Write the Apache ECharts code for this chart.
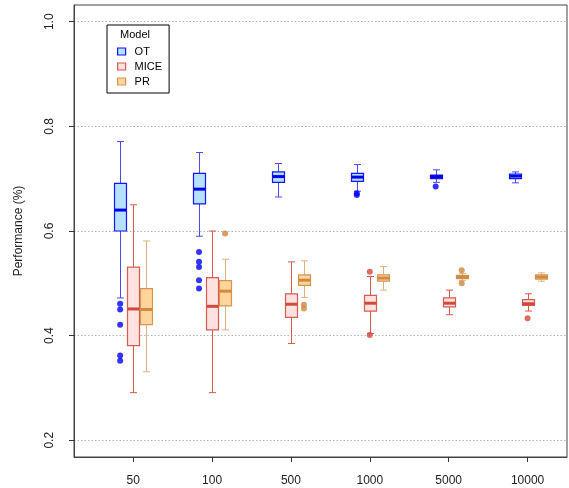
<!DOCTYPE html>
<html>
<head>
<meta charset="utf-8">
<script src="https://cdn.jsdelivr.net/npm/echarts@6/dist/echarts.min.js"></script>
<style>
  html, body { margin: 0; padding: 0; background: #fff; }
  #chart { width: 569px; height: 488px; }
</style>
</head>
<body>
<div id="chart"></div>
<script>
// sample sizes on the x axis
const sizes = ['50', '100', '500', '1000', '5000', '10000'];
const yTicks = [0.2, 0.4, 0.6, 0.8, 1.0];

// [min, q1, median, q3, max] per sample size
const otBoxes = [
  [0.472, 0.600, 0.640, 0.691, 0.771],
  [0.590, 0.652, 0.680, 0.710, 0.750],
  [0.665, 0.693, 0.704, 0.713, 0.729],
  [0.676, 0.695, 0.703, 0.710, 0.727],
  [0.693, 0.700, 0.704, 0.707, 0.717],
  [0.692, 0.700, 0.705, 0.709, 0.713]
];
const miceBoxes = [
  [0.291, 0.381, 0.451, 0.531, 0.650],
  [0.291, 0.411, 0.456, 0.511, 0.600],
  [0.385, 0.435, 0.460, 0.480, 0.541],
  [0.404, 0.447, 0.462, 0.477, 0.513],
  [0.440, 0.455, 0.462, 0.472, 0.487],
  [0.447, 0.458, 0.461, 0.469, 0.480]
];
const prBoxes = [
  [0.331, 0.421, 0.450, 0.490, 0.581],
  [0.411, 0.457, 0.485, 0.505, 0.546],
  [0.473, 0.496, 0.506, 0.516, 0.543],
  [0.487, 0.504, 0.510, 0.516, 0.532],
  [0.505, 0.509, 0.512, 0.515, 0.519],
  [0.504, 0.508, 0.512, 0.516, 0.520]
];

// outliers: [size index, value]
const otOutliers = [
  [0, 0.461], [0, 0.450], [0, 0.421], [0, 0.362], [0, 0.352],
  [1, 0.560], [1, 0.541], [1, 0.531], [1, 0.506], [1, 0.490],
  [3, 0.672], [3, 0.669], [4, 0.685]
];
const miceOutliers = [[3, 0.522], [3, 0.401], [5, 0.433]];
const prOutliers = [[1, 0.595], [2, 0.459], [2, 0.452], [4, 0.525], [4, 0.500]];

const FONT = '"Liberation Sans", Arial, sans-serif';

const models = [
  { name: 'OT', boxes: otBoxes, outliers: otOutliers, off: -0.165,
    fill: '#b3e1ff', border: '#1414ff', whisker: '#4a4aff', median: '#0000f0', dot: '#0000ff' },
  { name: 'MICE', boxes: miceBoxes, outliers: miceOutliers, off: 0,
    fill: '#fde2e0', border: '#d85a50', whisker: '#d8584c', median: '#d04a3c', dot: '#d4473a' },
  { name: 'PR', boxes: prBoxes, outliers: prOutliers, off: 0.165,
    fill: '#ffd59c', border: '#d59450', whisker: '#dfb083', median: '#d08a42', dot: '#d0873e' }
];

function boxRenderer(m) {
  return function (params, api) {
    const x = api.value(0);
    const pMin = api.coord([x, api.value(1)]);
    const pQ1 = api.coord([x, api.value(2)]);
    const pMed = api.coord([x, api.value(3)]);
    const pQ3 = api.coord([x, api.value(4)]);
    const pMax = api.coord([x, api.value(5)]);
    const cx = Math.round(pMin[0]) + 0.5;
    const half = 6, cap = 3.5;
    const wl = { stroke: m.whisker, lineWidth: 1 };
    return {
      type: 'group',
      children: [
        { type: 'line', shape: { x1: cx, y1: pMin[1], x2: cx, y2: pQ1[1] }, style: wl },
        { type: 'line', shape: { x1: cx, y1: pQ3[1], x2: cx, y2: pMax[1] }, style: wl },
        { type: 'line', shape: { x1: cx - cap, y1: pMin[1], x2: cx + cap, y2: pMin[1] }, style: wl },
        { type: 'line', shape: { x1: cx - cap, y1: pMax[1], x2: cx + cap, y2: pMax[1] }, style: wl },
        { type: 'rect', shape: { x: cx - half, y: pQ3[1], width: half * 2, height: pQ1[1] - pQ3[1] },
          style: { fill: m.fill, stroke: m.border, lineWidth: 1.2 } },
        { type: 'line', shape: { x1: cx - half, y1: pMed[1], x2: cx + half, y2: pMed[1] },
          style: { stroke: m.median, lineWidth: 3 } }
      ]
    };
  };
}

const series = [];
models.forEach(function (m) {
  series.push({
    name: m.name,
    type: 'custom',
    renderItem: boxRenderer(m),
    encode: { x: 0, y: [1, 2, 3, 4, 5] },
    itemStyle: { color: m.fill, borderColor: m.border },
    data: m.boxes.map(function (b, i) { return [i + m.off].concat(b); }),
    z: 2
  });
});
models.forEach(function (m) {
  series.push({
    name: m.name + ' outliers',
    type: 'scatter',
    symbol: 'circle',
    symbolSize: 6,
    itemStyle: { color: m.dot },
    data: m.outliers.map(function (o) { return [o[0] + m.off, o[1]]; }),
    z: 3
  });
});

const chart = echarts.init(document.getElementById('chart'));
chart.setOption({
  animation: false,
  backgroundColor: '#fff',
  grid: {
    left: 74, right: 2, top: 5, bottom: 31,
    show: true, borderColor: '#444', borderWidth: 1, backgroundColor: 'transparent'
  },
  xAxis: {
    type: 'value',
    min: -0.75, max: 5.5,
    axisLine: { show: true, onZero: false, lineStyle: { color: '#444' } },
    axisTick: { show: true, length: 5, customValues: [0, 1, 2, 3, 4, 5], lineStyle: { color: '#333' } },
    axisLabel: {
      customValues: [0, 1, 2, 3, 4, 5],
      formatter: function (v) { return sizes[Math.round(v)]; },
      margin: 18, color: '#222', fontSize: 12, fontFamily: FONT
    },
    splitLine: { show: false }
  },
  yAxis: {
    type: 'value',
    min: 0.168, max: 1.032,
    name: 'Performance (%)',
    nameLocation: 'middle',
    nameGap: 49,
    nameTextStyle: { color: '#222', fontSize: 12, fontFamily: FONT },
    axisLine: { show: true, onZero: false, lineStyle: { color: '#444' } },
    axisTick: { show: true, length: 5, customValues: yTicks, lineStyle: { color: '#333' } },
    axisLabel: {
      customValues: yTicks,
      formatter: function (v) { return v.toFixed(1); },
      rotate: 90, margin: 18, color: '#222', fontSize: 12, fontFamily: FONT
    },
    splitLine: { show: true, lineStyle: { color: '#b4b4b4', type: [1.5, 2], width: 1 } }
  },
  legend: {
    orient: 'vertical',
    left: 107, top: 25,
    padding: [21, 7, 6, 10],
    itemGap: 4,
    itemWidth: 8, itemHeight: 7,
    borderColor: '#000', borderWidth: 1,
    backgroundColor: '#fff',
    textStyle: { fontSize: 11, color: '#000', fontFamily: FONT, padding: [0, 0, 0, 4] },
    data: models.map(function (m) {
      return { name: m.name, icon: 'rect',
        itemStyle: { color: m.fill, borderColor: m.border, borderWidth: 1.2 } };
    })
  },
  graphic: [{
    type: 'text', left: 120, top: 29, z: 100,
    style: { text: 'Model', fontSize: 11, fill: '#000', font: '11px ' + FONT }
  }],
  series: series
});
</script>
</body>
</html>
